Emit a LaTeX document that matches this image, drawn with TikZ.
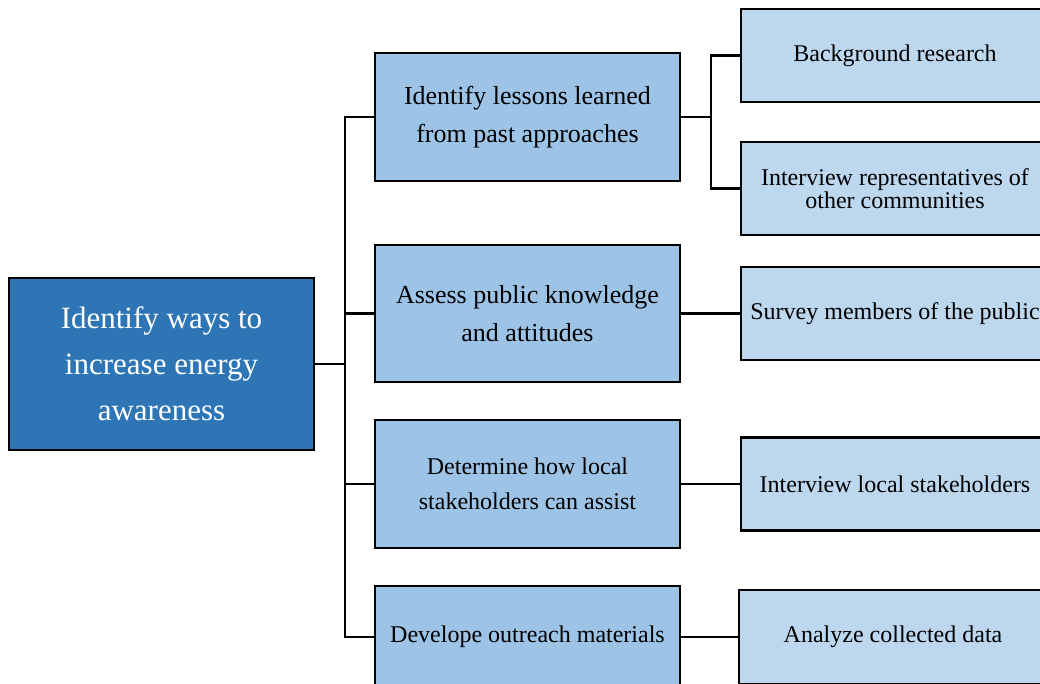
\documentclass[tikz,border=0pt]{standalone}
\usepackage{fontspec}
\setmainfont{Liberation Serif}
\definecolor{rootblue}{HTML}{2E75B6}
\definecolor{midblue}{HTML}{9DC3E6}
\definecolor{lightblue}{HTML}{BDD7EE}
\begin{document}
\begin{tikzpicture}[x=1pt,y=-1pt,
  box/.style={draw=black,line width=2.2pt,minimum width=305pt,align=center,inner sep=2pt},
  rootbox/.style={box,fill=rootblue,text=white,minimum height=172pt,font=\fontsize{31}{46}\selectfont},
  midbox/.style={box,fill=midblue,font=\fontsize{26}{38}\selectfont},
  leafbox/.style={box,fill=lightblue,minimum width=308pt,minimum height=93pt,font=\fontsize{24}{23}\selectfont},
  link/.style={line width=2.8pt,draw=black}]
\useasboundingbox (0,0) rectangle (1040,684);
\clip (0,0) rectangle (1040,684);
\fill[white] (0,0) rectangle (1040,684);

\coordinate (t) at (345,364);
\coordinate (u) at (711,117);

\node[rootbox] (root) at (161.5,364) {Identify ways to\\increase energy\\awareness};
\node[midbox,minimum height=128pt] (m1) at (527.5,117) {Identify lessons learned\\from past approaches};
\node[midbox,minimum height=137pt] (m2) at (527.5,313.5) {Assess public knowledge\\and attitudes};
\node[midbox,minimum height=128pt,font=\fontsize{24}{35}\selectfont] (m3) at (527.5,484) {Determine how local\\stakeholders can assist};
\node[midbox,minimum height=102pt,font=\fontsize{24}{23}\selectfont] (m4) at (527.5,637) {Develope outreach materials};

\node[leafbox] (r1) at (895,55.5) {Background research};
\node[leafbox] (r2) at (895,188.5) {Interview representatives of\\other communities};
\node[leafbox] (r3) at (895,313.5) {Survey members of the public};
\node[leafbox] (r4) at (895,484) {Interview local stakeholders};
\node[leafbox,minimum height=94pt] (r5) at (893,637) {Analyze collected data};

\draw[link] (root.east) -- (t);
\draw[link] (m1.west) -| (t) |- (m4.west);
\draw[link] (m2.west) -- (m2.west -| t);
\draw[link] (m3.west) -- (m3.west -| t);

\draw[link] (m1.east) -- (u);
\draw[link] (r1.west) -| (u) |- (r2.west);
\draw[link] (m2.east) -- (r3.west);
\draw[link] (m3.east) -- (r4.west);
\draw[link] (m4.east) -- (r5.west);
\end{tikzpicture}
\end{document}
